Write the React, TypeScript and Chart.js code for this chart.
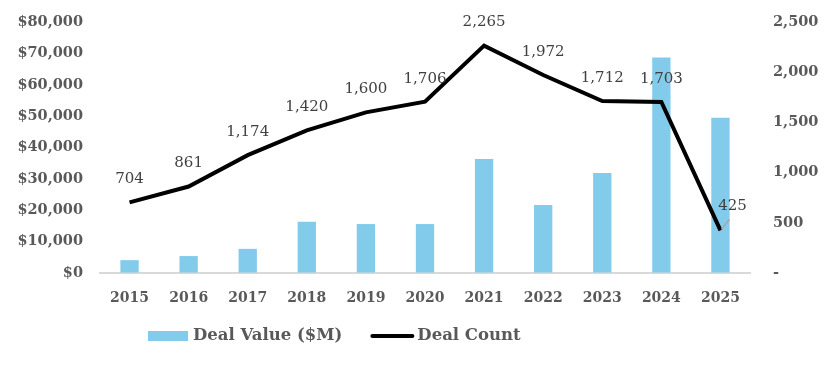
import React, { useEffect, useRef } from 'react';
import { Chart, registerables } from 'chart.js';

Chart.register(...registerables);

const categories = ['2015', '2016', '2017', '2018', '2019', '2020', '2021', '2022', '2023', '2024', '2025'];
const dealValue = [4100, 5400, 7700, 16300, 15600, 15600, 36300, 21700, 31900, 68700, 49500];
const dealCount = [704, 861, 1174, 1420, 1600, 1706, 2265, 1972, 1712, 1703, 425];
const valueAxisMax = 80000;
const valueAxisStep = 10000;
const countAxisMax = 2500;
const countAxisStep = 500;

const FONT = '"DejaVu Serif", serif';
const TICK_COLOR = '#595959';
const BAR_COLOR = '#83CBEB';

const fmt = (n: number) => n.toLocaleString('en-US');

const labelPlugin = {
  id: 'countLabels',
  afterDatasetsDraw(chart: any) {
    const meta = chart.getDatasetMeta(1);
    const ctx = chart.ctx;
    ctx.save();
    ctx.font = `15px ${FONT}`;
    ctx.fillStyle = '#404040';
    ctx.textAlign = 'center';
    ctx.textBaseline = 'middle';
    meta.data.forEach((pt: any, i: number) => {
      const last = i === meta.data.length - 1;
      const dx = last ? 12 : 0;
      const dy = last ? -24 : -23;
      if (last) {
        ctx.save();
        ctx.strokeStyle = '#A6A6A6';
        ctx.lineWidth = 1.5;
        ctx.beginPath();
        ctx.moveTo(pt.x + 1, pt.y - 1);
        ctx.lineTo(pt.x + 9, pt.y - 11);
        ctx.stroke();
        ctx.restore();
      }
      ctx.fillText(fmt(dealCount[i]), pt.x + dx, pt.y + dy);
    });
    ctx.restore();
  },
};

const legendPlugin = {
  id: 'customLegend',
  afterDraw(chart: any) {
    const ctx = chart.ctx;
    const y = 336;
    let x = 148;
    ctx.save();
    ctx.font = `bold 16.5px ${FONT}`;
    ctx.textBaseline = 'middle';
    ctx.textAlign = 'left';
    ctx.fillStyle = BAR_COLOR;
    ctx.fillRect(x, y - 5, 40, 10);
    x += 45;
    ctx.fillStyle = TICK_COLOR;
    const t1 = chart.data.datasets[0].label;
    ctx.fillText(t1, x, y);
    x += ctx.measureText(t1).width + 28;
    ctx.strokeStyle = '#000000';
    ctx.lineWidth = 4;
    ctx.lineCap = 'round';
    ctx.beginPath();
    ctx.moveTo(x + 2, y);
    ctx.lineTo(x + 42, y);
    ctx.stroke();
    x += 47;
    ctx.fillStyle = TICK_COLOR;
    ctx.fillText(chart.data.datasets[1].label, x, y);
    ctx.restore();
  },
};

const hiddenTicks = (len: number) => ({
  display: true,
  drawOnChartArea: false,
  drawTicks: true,
  tickLength: len,
  color: 'rgba(0,0,0,0)',
});

export default function App() {
  const ref = useRef<HTMLCanvasElement | null>(null);
  useEffect(() => {
    document.body.style.margin = '0';
    if (!ref.current) return;
    const chart = new Chart(ref.current, {
      type: 'bar',
      data: {
        labels: categories,
        datasets: [
          {
            type: 'bar',
            label: 'Deal Value ($M)',
            data: dealValue,
            backgroundColor: BAR_COLOR,
            yAxisID: 'y',
            barPercentage: 0.31,
            categoryPercentage: 1,
            order: 2,
          },
          {
            type: 'line',
            label: 'Deal Count',
            data: dealCount,
            borderColor: '#000000',
            borderWidth: 4,
            pointRadius: 0,
            tension: 0,
            yAxisID: 'y1',
            order: 1,
          } as any,
        ],
      },
      options: {
        animation: false,
        responsive: false,
        layout: { padding: { top: 22, bottom: 0, left: 0, right: 0 } },
        plugins: {
          legend: { display: false },
          tooltip: { enabled: false },
        },
        scales: {
          x: {
            grid: { display: false },
            border: { display: true, color: '#D9D9D9', width: 2 },
            ticks: { color: TICK_COLOR, font: { family: FONT, size: 14, weight: 'bold' }, padding: 9 },
            afterFit: (s: any) => { s.height = 95; },
          },
          y: {
            position: 'left',
            min: 0,
            max: valueAxisMax,
            grid: hiddenTicks(15),
            border: { display: false },
            ticks: {
              stepSize: valueAxisStep,
              color: TICK_COLOR,
              font: { family: FONT, size: 14.5, weight: 'bold' },
              padding: 2,
              callback: (v: any) => '$' + fmt(Number(v)),
            },
            afterFit: (s: any) => { s.width = 100; },
          },
          y1: {
            position: 'right',
            min: 0,
            max: countAxisMax,
            grid: hiddenTicks(21),
            border: { display: false },
            ticks: {
              stepSize: countAxisStep,
              color: TICK_COLOR,
              font: { family: FONT, size: 14.5, weight: 'bold' },
              padding: 2,
              callback: (v: any) => (Number(v) === 0 ? '-' : fmt(Number(v))),
            },
            afterFit: (s: any) => { s.width = 88; },
          },
        },
      } as any,
      plugins: [labelPlugin, legendPlugin],
    });
    return () => chart.destroy();
  }, []);
  return (
    <div style={{ position: 'absolute', left: 0, top: 0, width: 838, height: 368 }}>
      <canvas ref={ref} width={838} height={368} style={{ display: 'block' }} />
    </div>
  );
}
